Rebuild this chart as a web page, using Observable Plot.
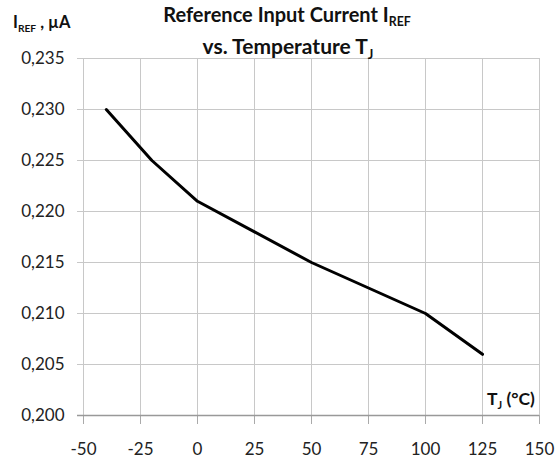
<!DOCTYPE html>
<html><head><meta charset="utf-8">
<script src="https://cdn.jsdelivr.net/npm/d3@7"></script>
<script src="https://cdn.jsdelivr.net/npm/@observablehq/plot@0.6"></script>
<style>body{margin:0;background:#fff} svg{font-family:Lato,sans-serif}</style>
</head><body><div id="chart"></div>
<script>
const temperature = [-40, -20, 0, 25, 50, 75, 100, 125];
const iref = [0.230, 0.225, 0.221, 0.218, 0.215, 0.2125, 0.210, 0.206];
const xTicks = [-50, -25, 0, 25, 50, 75, 100, 125, 150];
const yTicks = [0.200, 0.205, 0.210, 0.215, 0.220, 0.225, 0.230, 0.235];
const titleLine1 = ["Reference Input Current I", "REF"];
const titleLine2 = ["vs. Temperature T", "J"];
const yLabel = ["I", "REF", " , µA"];
const xLabel = ["T", "J", " (°C)"];

const data = temperature.map((t, i) => ({t, v: iref[i]}));
const fmt = d => d3.format(".3f")(d).replace(".", ",");

const chart = Plot.plot({
  width: 560, height: 461,
  marginLeft: 83, marginRight: 21, marginTop: 58, marginBottom: 46,
  style: {fontFamily: "Lato, sans-serif", background: "#fff", color: "#222"},
  x: {domain: [-50, 150]},
  y: {domain: [0.2, 0.235]},
  marks: [
    Plot.gridX(xTicks, {stroke: "#c8c8c8", strokeOpacity: 1}),
    Plot.gridY(yTicks, {stroke: "#c8c8c8", strokeOpacity: 1}),
    Plot.axisY(yTicks, {tickSize: 6, tickPadding: 13, tickFormat: fmt, fontSize: 17, stroke: "#c8c8c8", fill: "#222", label: null}),
    Plot.axisX(xTicks, {tickSize: 9, tickPadding: 18, tickFormat: d => String(d), fontSize: 17, stroke: "#aaa", fill: "#222", label: null}),
    Plot.ruleY([0.2], {stroke: "#999", strokeWidth: 1.3, insetLeft: -6}),
    Plot.line(data, {x: "t", y: "v", stroke: "#000", strokeWidth: 3})
  ]
});
document.getElementById("chart").append(chart);

const svg = d3.select(chart);
function addText(parts, x, y, size, anchor) {
  const t = svg.append("text").attr("x", x).attr("y", y).attr("text-anchor", anchor)
    .attr("font-weight", "bold").attr("font-size", size).attr("fill", "#111")
    .style("font-family", "Lato, sans-serif");
  parts.forEach((p, i) => {
    const sub = i === 1;
    const s = t.append("tspan").text(p);
    if (sub) s.attr("font-size", size * 0.62).attr("dy", size * 0.22);
    else if (i > 1) s.attr("dy", -size * 0.22);
  });
  return t;
}
addText(titleLine1, 287, 22, 20, "middle");
addText(titleLine2, 288, 54, 21, "middle");
addText(yLabel, 13, 28, 16.5, "start");
addText(xLabel, 487, 405, 17.5, "start");
</script>
</body></html>
